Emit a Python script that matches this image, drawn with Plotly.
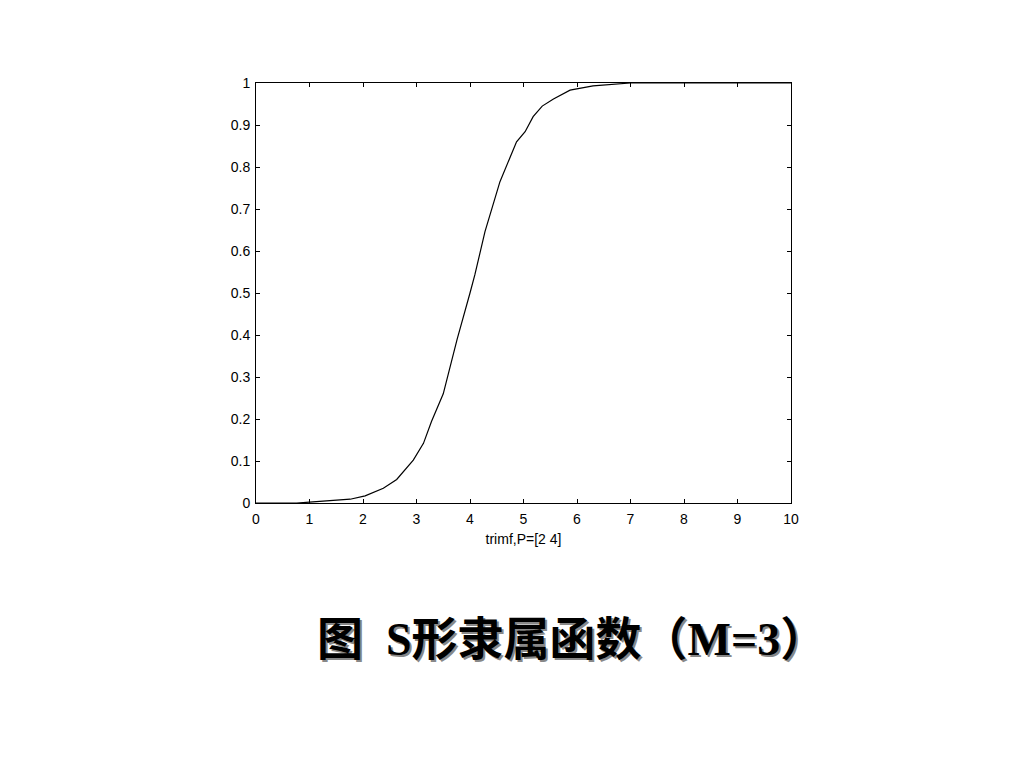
import plotly.graph_objects as go

x_vals = [0, 0.76, 1.0, 1.38, 1.76, 2.04, 2.38, 2.63, 2.94, 3.13, 3.28, 3.5, 3.76, 4.0, 4.09, 4.28,
          4.56, 4.87, 5.03, 5.18, 5.35, 5.56, 5.87, 6.3, 6.68, 7.0, 7.5, 8, 9, 10]
y_vals = [0, 0, 0.002, 0.005, 0.009, 0.017, 0.035, 0.056, 0.102, 0.142, 0.194, 0.26, 0.39, 0.5, 0.543, 0.646,
          0.765, 0.86, 0.884, 0.92, 0.945, 0.962, 0.983, 0.993, 0.997, 1.0, 1.0, 1.0, 1.0, 1.0]
x_ticks = list(range(0, 11))
y_ticks = [0, 0.1, 0.2, 0.3, 0.4, 0.5, 0.6, 0.7, 0.8, 0.9, 1]
y_tick_text = ["0", "0.1", "0.2", "0.3", "0.4", "0.5", "0.6", "0.7", "0.8", "0.9", "1"]
x_title = "trimf,P=[2 4]"
caption = "图  S形隶属函数（M=3）"

fig = go.Figure()
fig.add_trace(go.Scatter(x=x_vals, y=y_vals, mode="lines",
                         line=dict(color="black", width=1.2), showlegend=False))

tick_font = dict(family="Liberation Sans, Arial", size=14, color="black")
axis_common = dict(showline=True, linecolor="black", linewidth=1, mirror="ticks",
                   ticks="inside", ticklen=4, tickcolor="black", showgrid=False,
                   zeroline=False, tickfont=tick_font)

fig.update_xaxes(range=[0, 10], tickvals=x_ticks, ticklabelstandoff=3, **axis_common,
                 title=dict(text=x_title, font=tick_font, standoff=8))
fig.update_yaxes(range=[0, 1], tickvals=y_ticks, ticktext=y_tick_text, ticklabelstandoff=2, **axis_common)

cap_font = "Liberation Serif, Times New Roman, Noto Sans CJK SC"
fig.add_annotation(text="<b>" + caption + "</b>", xref="paper", yref="paper", x=0.59, y=-0.39,
                   xshift=2, yshift=-2, showarrow=False,
                   font=dict(family=cap_font, size=46, color="#888888"))
fig.add_annotation(text="<b>" + caption + "</b>", xref="paper", yref="paper", x=0.59, y=-0.39,
                   showarrow=False, font=dict(family=cap_font, size=46, color="black"))

fig.update_layout(width=1024, height=768, paper_bgcolor="white", plot_bgcolor="white",
                  margin=dict(l=248, r=241, t=75, b=273), autosize=False)

fig.write_html("out.html")
